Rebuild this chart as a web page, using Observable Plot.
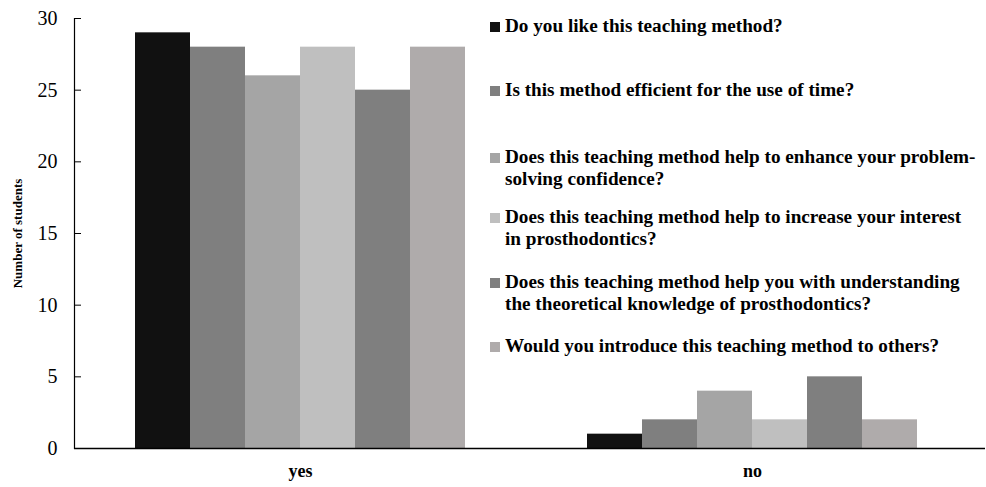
<!DOCTYPE html>
<html>
<head>
<meta charset="utf-8">
<script src="https://cdn.jsdelivr.net/npm/d3@7"></script>
<script src="https://cdn.jsdelivr.net/npm/@observablehq/plot@0.6"></script>
<style>
  body { margin: 0; background: #fff; }
  #wrap { position: relative; width: 986px; height: 487px; }
  g[aria-label="y-axis tick label"] { font-size: 20px; }
  g[aria-label="y-axis label"] { font-size: 13px; font-weight: bold; }
  g[aria-label="fx-axis tick label"] { font-size: 18px; font-weight: bold; }
  #legend { position: absolute; left: 490px; top: 0; width: 496px;
    font-family: "Liberation Serif", "Times New Roman", serif; font-weight: bold; font-size: 19.2px; line-height: 22px; color: #000; }
  .item { position: absolute; left: 0; display: flex; align-items: flex-start; width: 496px; }
  .sw { width: 10px; height: 10px; margin-top: 7px; margin-right: 5px; flex: none; }
</style>
</head>
<body>
<div id="wrap"><div id="legend"></div></div>
<script>
const groups = ["yes", "no"];
const questions = [
  "Do you like this teaching method?",
  "Is this method efficient for the use of time?",
  "Does this teaching method help to enhance your problem-solving confidence?",
  "Does this teaching method help to increase your interest in prosthodontics?",
  "Does this teaching method help you with understanding the theoretical knowledge of prosthodontics?",
  "Would you introduce this teaching method to others?"
];
const legendLines = [
  ["Do you like this teaching method?"],
  ["Is this method efficient for the use of time?"],
  ["Does this teaching method help to enhance your problem-", "solving confidence?"],
  ["Does this teaching method help to increase your interest", "in prosthodontics?"],
  ["Does this teaching method help you with understanding", "the theoretical knowledge of prosthodontics?"],
  ["Would you introduce this teaching method to others?"]
];
const yesValues = [29, 28, 26, 28, 25, 28];
const noValues = [1, 2, 4, 2, 5, 2];
const colors = ["#111111", "#7f7f7f", "#a5a5a5", "#bfbfbf", "#7f7f7f", "#afabab"];
const yTicks = [0, 5, 10, 15, 20, 25, 30];
const legendTops = [15, 79, 146, 206, 271, 335];

const data = [];
questions.forEach((q, i) => {
  data.push({group: "yes", question: q, value: yesValues[i]});
  data.push({group: "no", question: q, value: noValues[i]});
});

const chart = Plot.plot({
  width: 986,
  height: 487,
  marginLeft: 74,
  marginRight: 8,
  marginTop: 18,
  marginBottom: 39,
  style: {fontFamily: "'Liberation Serif', 'Times New Roman', serif", color: "#000", background: "#fff"},
  fx: {domain: groups, padding: 0, axis: "bottom", label: null, tickSize: 0, tickPadding: 16},
  x: {domain: questions, paddingInner: 0, paddingOuter: 1.109, axis: null},
  y: {domain: [0, 30], axis: null},
  color: {domain: questions, range: colors},
  marks: [
    Plot.barY(data, {fx: "group", x: "question", y: "value", fill: "question"}),
    Plot.ruleY([0], {stroke: "#000", strokeWidth: 1.5, facetAnchor: "left"}),
    Plot.ruleY([0], {stroke: "#000", strokeWidth: 1.5, facetAnchor: "right", insetRight: -7}),
    Plot.frame({anchor: "left", facetAnchor: "left", stroke: "#000", strokeWidth: 1.2}),
    Plot.axisY(yTicks, {tickSize: -7, tickPadding: 24, label: "Number of students", labelAnchor: "center", labelArrow: "none", labelOffset: 62, stroke: "#000", color: "#000"})
  ]
});
document.getElementById("wrap").prepend(chart);

const legend = document.getElementById("legend");
legendLines.forEach((lines, i) => {
  const item = document.createElement("div");
  item.className = "item";
  item.style.top = legendTops[i] + "px";
  const sw = document.createElement("div");
  sw.className = "sw";
  sw.style.background = colors[i];
  const txt = document.createElement("div");
  txt.innerHTML = lines.join("<br>");
  item.append(sw, txt);
  legend.append(item);
});
</script>
</body>
</html>
